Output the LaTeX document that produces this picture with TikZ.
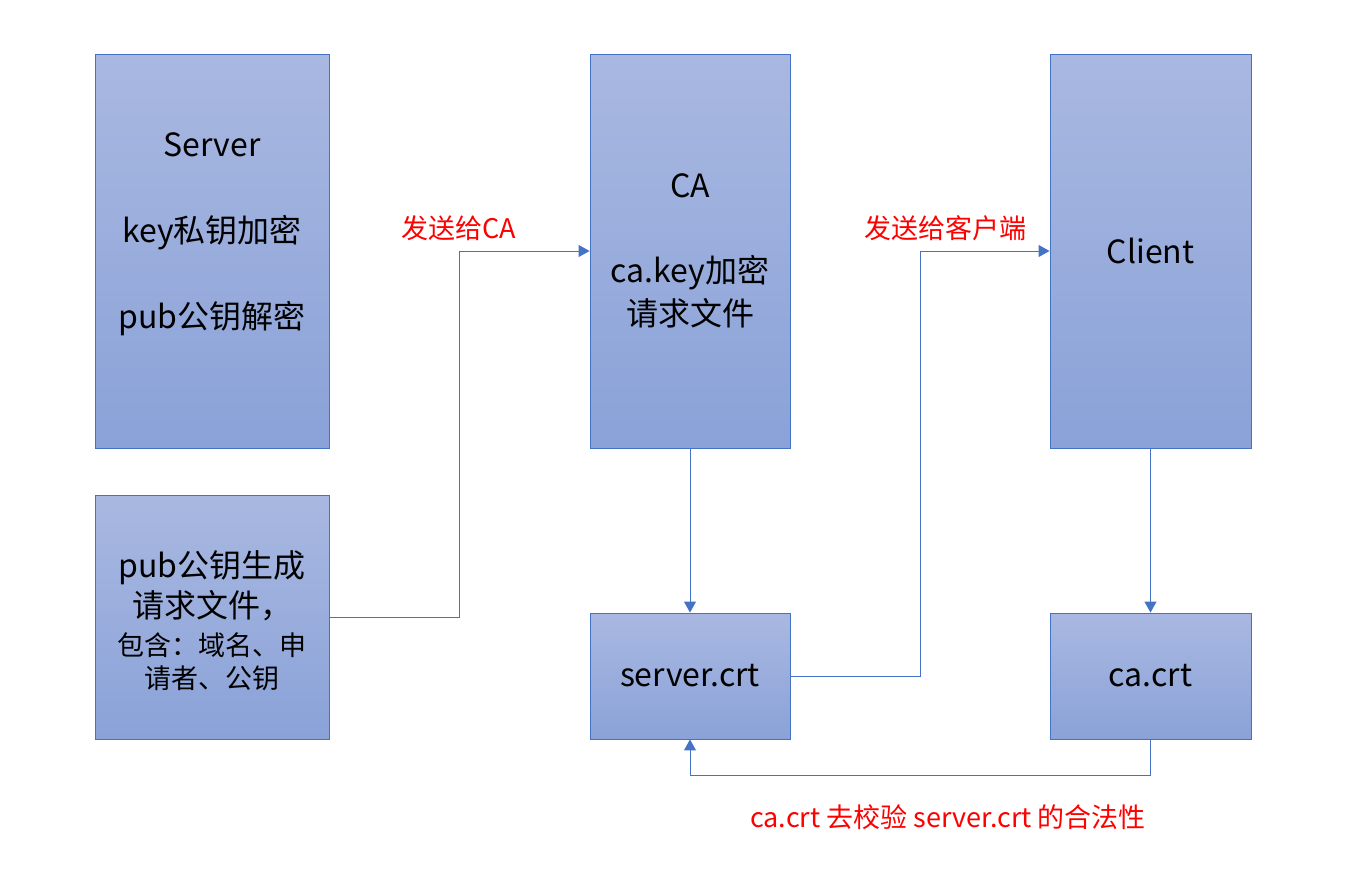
\documentclass[tikz,border=0pt]{standalone}
\usepackage{fontspec}
\setmainfont{Noto Sans CJK SC}
\usetikzlibrary{arrows.meta}
\definecolor{boxline}{HTML}{4472C4}
\definecolor{boxtop}{HTML}{A9B8E1}
\definecolor{boxbot}{HTML}{8AA2D8}
\tikzset{
	box/.style={draw=boxline, line width=0.9pt, top color=boxtop, bottom color=boxbot, inner sep=0pt, align=center, font=\fontsize{32}{43}\selectfont},
	boxtext/.style={align=center, font=\fontsize{32}{43}\selectfont},
	conn/.style={draw=boxline, line width=1pt, -{Triangle[width=12pt,length=11pt]}},
	redlbl/.style={text=red, font=\fontsize{27}{33}\selectfont}
}

\begin{document}
\begin{tikzpicture}[x=1pt, y=-1pt]
		%%%%% START %%%%%
		\useasboundingbox (0, 0) rectangle (1345, 884);
		
		\node[box, minimum width=234, minimum height=394, label={[name=srvtxt, yshift=17pt, boxtext]center:Server\\[43pt]key私钥加密\\[43pt]pub公钥解密}] (srv) at (212, 251) {};
		\node[box, minimum width=234, minimum height=244, label={[name=reqtxt, yshift=-4pt, boxtext]center:pub公钥生成\\[-3pt]请求文件，\\[-5pt]{\fontsize{27}{33}\selectfont 包含：域名、申}\\[-10pt]{\fontsize{27}{33}\selectfont 请者、公钥}}] (req) at (212, 617) {};
		
		\node[box, minimum width=200, minimum height=394] (ca) at (690, 251) {CA\\[42pt]ca.key加密\\请求文件};
		\node[box, minimum width=200, minimum height=126] (crt) at (690, 676) {server.crt};
		
		\node[box, minimum width=201, minimum height=394] (cli) at (1150.5, 251) {Client};
		\node[box, minimum width=201, minimum height=126] (cacrt) at (1150.5, 676) {ca.crt};
		
		\draw[conn] (req.east) -- ++(130, 0) |- (ca.west);
		\draw[conn] (ca.south) -- (crt.north);
		\draw[conn] (crt.east) -- ++(130, 0) |- (cli.west);
		\draw[conn] (cli.south) -- (cacrt.north);
		\draw[conn] (cacrt.south) -- ++(0, 36) -| (crt.south);
		
		\node[redlbl] (sendca) at (459, 228) {发送给CA};
		\node[redlbl] (sendcli) at (945, 228) {发送给客户端};
		\node[redlbl] (check) at (948, 817) {ca.crt 去校验 server.crt 的合法性};
		
		%%%%% END %%%%%
	\end{tikzpicture}
\end{document}
